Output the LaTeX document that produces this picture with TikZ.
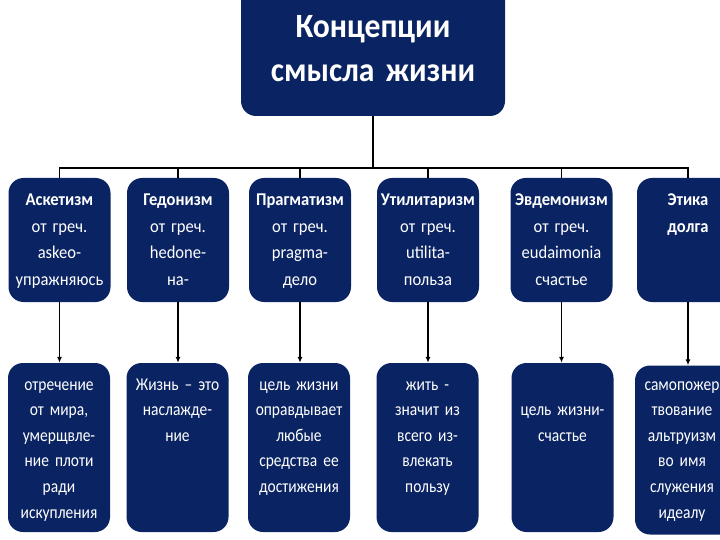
\documentclass[tikz,border=0pt]{standalone}
\usepackage{fontspec}
\setmainfont{Carlito}
\newfontfamily\titlefont[FakeStretch=0.93]{Carlito}
\newfontfamily\upperfont[FakeStretch=0.92]{Carlito}
\newfontfamily\lowerfont[FakeStretch=0.86]{Carlito}
\usetikzlibrary{arrows.meta}
\definecolor{navy}{HTML}{0A2362}
\begin{document}
\begin{tikzpicture}[x=1pt,y=-1pt,
  box/.style={fill=navy, rounded corners=15pt, inner sep=0pt, draw=none},
  topbox/.style={box, minimum width=102pt, minimum height=124pt},
  botbox/.style={box, minimum width=102pt, minimum height=169pt},
  txt/.style={text=white, text width=150pt, align=center, anchor=base, inner sep=0pt},
  toptxt/.style={txt, font=\upperfont\fontsize{18}{26.5}\selectfont},
  bottxt/.style={txt, font=\lowerfont\fontsize{18}{25.6}\selectfont},
  link/.style={line width=1.4pt, black},
  arr/.style={link, -{Latex[length=6pt,width=5pt]}}]
\useasboundingbox (0,0) rectangle (720,540);
\clip (0,0) rectangle (720,540);
% title
\node[box, minimum width=264pt, minimum height=131pt] (top) at (373,50.5) {};
\node[txt, text width=300pt, font=\titlefont\fontsize{34}{44}\bfseries\selectfont] (toptext) at (373,38) {Концепции\\смысла жизни};
\coordinate (hub) at (373,168);
% top row
\node[topbox] (a1) at (59.5,240) {};
\node[topbox] (a2) at (178,240) {};
\node[topbox] (a3) at (300,240) {};
\node[topbox] (a4) at (428,240) {};
\node[topbox] (a5) at (561.5,240) {};
\node[topbox] (a6) at (688,240) {};
\node[toptxt] (ta1) at (59.5,205.6) {\textbf{Аскетизм}\\от греч.\\askeo-\\упражняюсь};
\node[toptxt] (ta2) at (178,205.6) {\textbf{Гедонизм}\\от греч.\\hedone-\\на-};
\node[toptxt] (ta3) at (300,205.6) {\textbf{Прагматизм}\\от греч.\\pragma-\\дело};
\node[toptxt] (ta4) at (428,205.6) {\textbf{Утилитаризм}\\от греч.\\utilita-\\польза};
\node[toptxt] (ta5) at (561.5,205.6) {\textbf{Эвдемонизм}\\от греч.\\eudaimonia\\счастье};
\node[toptxt] (ta6) at (688,205.6) {\textbf{Этика}\\\textbf{долга}};
% bottom row
\node[botbox] (b1) at (59,447.5) {};
\node[botbox] (b2) at (177.5,447.5) {};
\node[botbox] (b3) at (299,447.5) {};
\node[botbox] (b4) at (427.5,447.5) {};
\node[botbox] (b5) at (562.5,447.5) {};
\node[botbox] (b6) at (686,450) {};
\node[bottxt] (tb1) at (59,390) {отречение\\от мира,\\умерщвле-\\ние плоти\\ради\\искупления};
\node[bottxt] (tb2) at (177.5,390) {Жизнь – это\\наслажде-\\ние};
\node[bottxt] (tb3) at (299,390) {цель жизни\\оправдывает\\любые\\средства ее\\достижения};
\node[bottxt] (tb4) at (427.5,390) {жить -\\значит из\\всего из-\\влекать\\пользу};
\node[bottxt] (tb5) at (562.5,415.6) {цель жизни-\\счастье};
\node[bottxt] (tb6) at (682,390) {самопожер\\твование\\альтруизм\\во имя\\служения\\идеалу};
% connectors
\draw[link] (top.south) -- (hub);
\foreach \n in {a1,a2,a3,a4,a5,a6} \draw[link] (\n.north) |- (hub);
\foreach \u/\v in {a1/b1,a2/b2,a3/b3,a4/b4,a5/b5,a6/b6}
  \draw[arr] (\u.south) -- (\u.south |- \v.north);
\end{tikzpicture}
\end{document}
